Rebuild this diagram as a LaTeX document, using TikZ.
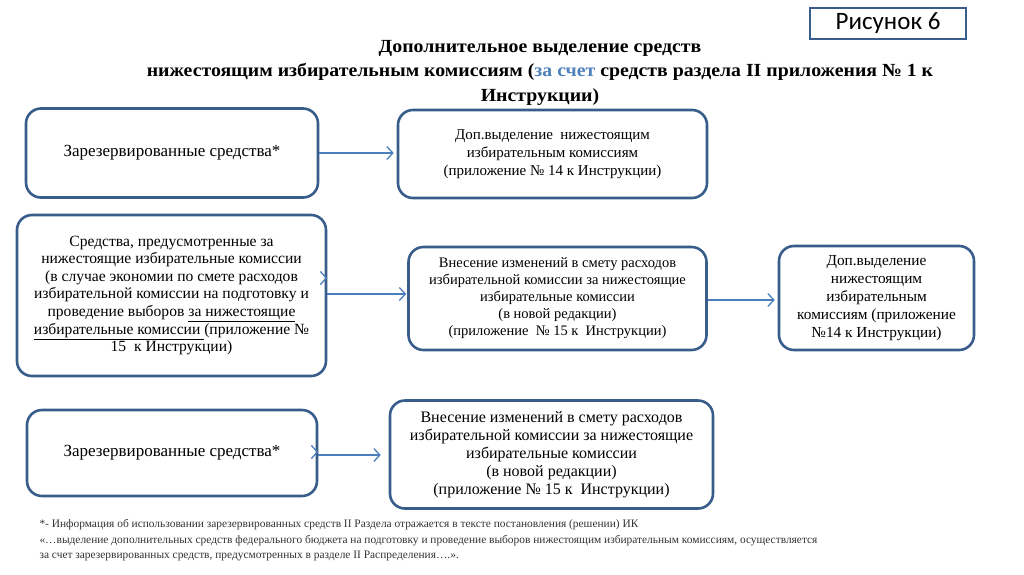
\documentclass[tikz,border=0pt]{standalone}
\usepackage{fontspec}
\setmainfont{Liberation Serif}
\newfontfamily\calib{Carlito}
\usetikzlibrary{arrows.meta}
\definecolor{boxc}{RGB}{56,93,138}
\definecolor{arrc}{RGB}{74,126,187}
\definecolor{titleblue}{RGB}{79,129,189}
\begin{document}
\begin{tikzpicture}[x=1pt,y=-1pt,
  box/.style={draw=boxc, line width=2.6pt, rounded corners=15pt, inner sep=0pt, align=center},
  arr/.style={draw=arrc, line width=1.3pt, -{Straight Barb[length=6pt,width=13pt,line width=1.3pt]}}
]
\useasboundingbox[fill=white] (0,0) rectangle (1024,574);

% figure label
\node[draw=boxc, line width=2pt, minimum width=156pt, minimum height=31pt, inner sep=0pt,
      font=\calib\fontsize{25}{26}\selectfont] (fig) at (888,23.5) {\raisebox{-2pt}{Рисунок 6}};

% title
\node[align=center, font=\bfseries\fontsize{18.5}{24.5}\selectfont\addfontfeature{FakeStretch=1.07}] (title) at (540,72.5)
 {Дополнительное выделение средств\\
  нижестоящим избирательным комиссиям ({\color{titleblue}за счет} средств раздела II приложения № 1 к\\
  Инструкции)};

% row 1
\node[box, minimum width=292pt, minimum height=89pt, font=\fontsize{17}{18}\selectfont] (A1) at (172,153)
 {Зарезервированные средства*};
\node[box, minimum width=309pt, minimum height=88pt, font=\fontsize{15}{18}\selectfont] (B1) at (552.5,154)
 {Доп.выделение\ \ нижестоящим\\ избирательным комиссиям\\ (приложение № 14 к Инструкции)};

% row 2
\node[box, minimum width=309pt, minimum height=161pt, font=\fontsize{15.6}{17.6}\selectfont] (A2) at (171.5,295.5)
 {Средства, предусмотренные за\\
  нижестоящие избирательные комиссии\\
  (в случае экономии по смете расходов\\
  избирательной комиссии на подготовку и\\
  проведение выборов \underline{за нижестоящие}\\
  \underline{избирательные комиссии }(приложение №\\
  15\ \ к Инструкции)};
\node[box, minimum width=298pt, minimum height=103pt, font=\fontsize{14.5}{17}\selectfont] (B2) at (557.5,298.5)
 {Внесение изменений в смету расходов\\
  избирательной комиссии за нижестоящие\\
  избирательные комиссии\\
  (в новой редакции)\\
  (приложение\ \ № 15 к\ \ Инструкции)};
\node[box, minimum width=195pt, minimum height=104pt, font=\fontsize{15.3}{18}\selectfont] (C2) at (876.5,298)
 {Доп.выделение\\ нижестоящим\\ избирательным\\ комиссиям (приложение\\ №14 к Инструкции)};

% row 3
\node[box, minimum width=290pt, minimum height=86pt, font=\fontsize{17}{18}\selectfont] (A3) at (172,453)
 {Зарезервированные средства*};
\node[box, minimum width=323pt, minimum height=108pt, font=\fontsize{16}{18}\selectfont] (B3) at (551.5,454.5)
 {Внесение изменений в смету расходов\\
  избирательной комиссии за нижестоящие\\
  избирательные комиссии\\
  (в новой редакции)\\
  (приложение № 15 к\ \ Инструкции)};

% connectors
\coordinate (t1) at ([xshift=-3pt]B1.west |- A1.east);
\draw[arr] (A1.east) -- (t1);
\coordinate (s2) at (A2.east |- 0,294);
\coordinate (t2) at ([xshift=-1pt]B2.west |- s2);
\draw[arr] (s2) -- (t2);
\coordinate (s3) at (B2.east |- 0,300);
\coordinate (t3) at ([xshift=-3pt]C2.west |- s3);
\draw[arr] (s3) -- (t3);
\coordinate (s4) at (A3.east |- 0,455);
\coordinate (t4) at ([xshift=-8pt]B3.west |- s4);
\draw[arr] (s4) -- (t4);
% small stray arrow tips at box edges
\coordinate (k1) at (A2.east |- 0,278);
\draw[arr] ([xshift=-2pt]k1) -- (k1);
\coordinate (k2) at (A3.east |- 0,452);
\draw[arr] ([xshift=-2pt]k2) -- (k2);

% footnote
\node[anchor=north west, align=left, text=black!80, font=\fontsize{11.4}{15.3}\selectfont] (note) at (36,516)
 {*- Информация об использовании зарезервированных средств II Раздела отражается в тексте постановления (решении) ИК\\
  «\ldots выделение дополнительных средств федерального бюджета на подготовку и проведение выборов нижестоящим избирательным комиссиям, осуществляется\\
  за счет зарезервированных средств, предусмотренных в разделе II Распределения\ldots.».};
\end{tikzpicture}
\end{document}
